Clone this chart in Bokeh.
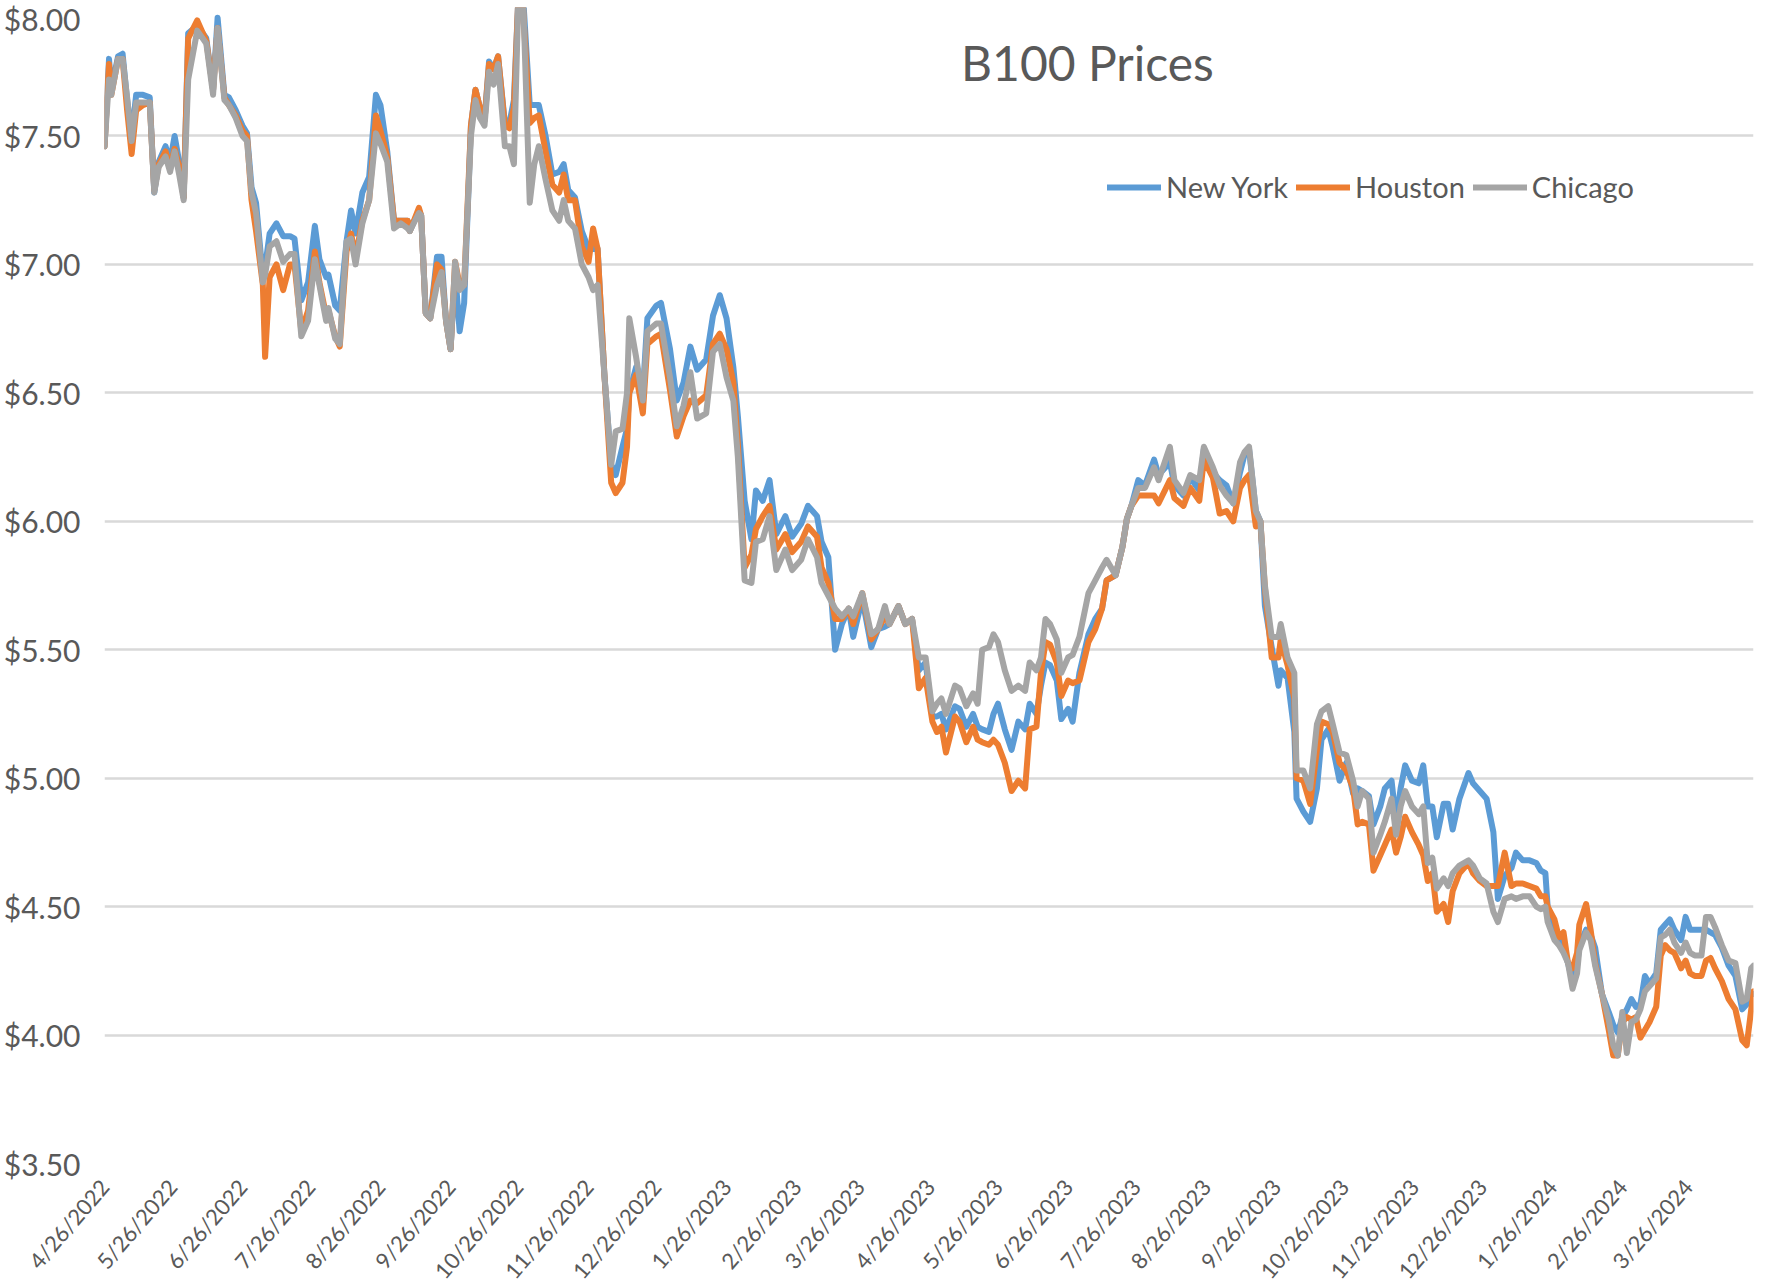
import pandas as pd
from bokeh.plotting import figure
from bokeh.models import (ColumnDataSource, Range1d, FixedTicker, NumeralTickFormatter,
                          Legend, LegendItem, Label)
from bokeh.embed import file_html
from bokeh.resources import INLINE

# ---------------- data ----------------
dates = [
    "2022-04-26", "2022-04-28", "2022-04-29", "2022-05-02", "2022-05-04", "2022-05-06", "2022-05-08",
    "2022-05-10", "2022-05-13", "2022-05-16", "2022-05-18", "2022-05-20", "2022-05-23", "2022-05-25",
    "2022-05-27", "2022-05-29", "2022-05-31", "2022-06-02", "2022-06-06", "2022-06-10", "2022-06-13",
    "2022-06-15", "2022-06-18", "2022-06-20", "2022-06-23", "2022-06-26", "2022-06-28", "2022-06-30",
    "2022-07-02", "2022-07-05", "2022-07-06", "2022-07-08", "2022-07-11", "2022-07-14", "2022-07-17",
    "2022-07-19", "2022-07-22", "2022-07-25", "2022-07-28", "2022-07-30", "2022-08-02", "2022-08-03",
    "2022-08-06", "2022-08-08", "2022-08-11", "2022-08-13", "2022-08-15", "2022-08-18", "2022-08-21",
    "2022-08-24",
    "2022-08-26", "2022-08-29", "2022-09-01", "2022-09-04", "2022-09-07", "2022-09-08", "2022-09-12",
    "2022-09-13", "2022-09-15", "2022-09-17", "2022-09-20", "2022-09-22", "2022-09-24", "2022-09-26",
    "2022-09-28", "2022-09-30", "2022-10-02", "2022-10-05", "2022-10-07", "2022-10-09", "2022-10-11",
    "2022-10-13", "2022-10-15", "2022-10-17", "2022-10-20", "2022-10-22", "2022-10-24", "2022-10-26",
    "2022-10-28", "2022-10-31", "2022-11-02", "2022-11-04", "2022-11-07", "2022-11-10", "2022-11-13",
    "2022-11-15", "2022-11-17", "2022-11-20", "2022-11-23", "2022-11-26", "2022-11-28", "2022-11-30",
    "2022-12-03", "2022-12-06", "2022-12-08", "2022-12-11", "2022-12-13", "2022-12-14", "2022-12-17",
    "2022-12-20", "2022-12-22", "2022-12-26", "2022-12-28",
    "2023-01-01", "2023-01-04", "2023-01-07", "2023-01-10", "2023-01-13", "2023-01-17", "2023-01-20",
    "2023-01-23", "2023-01-26", "2023-01-29", "2023-01-31", "2023-02-03", "2023-02-06", "2023-02-08",
    "2023-02-11", "2023-02-14", "2023-02-17", "2023-02-21", "2023-02-24", "2023-02-28", "2023-03-03",
    "2023-03-07", "2023-03-09", "2023-03-12", "2023-03-15", "2023-03-18", "2023-03-21", "2023-03-23",
    "2023-03-27", "2023-03-31", "2023-04-03", "2023-04-06", "2023-04-08", "2023-04-12", "2023-04-15",
    "2023-04-18", "2023-04-21", "2023-04-24", "2023-04-27",
    "2023-04-29", "2023-05-01", "2023-05-03", "2023-05-07", "2023-05-09", "2023-05-12", "2023-05-15",
    "2023-05-17", "2023-05-19", "2023-05-22", "2023-05-24", "2023-05-26", "2023-05-29", "2023-06-01",
    "2023-06-04", "2023-06-07", "2023-06-09", "2023-06-12", "2023-06-14", "2023-06-16", "2023-06-18",
    "2023-06-21", "2023-06-23", "2023-06-26", "2023-06-28", "2023-07-01", "2023-07-05", "2023-07-08",
    "2023-07-11", "2023-07-13", "2023-07-17", "2023-07-20", "2023-07-22", "2023-07-24", "2023-07-27",
    "2023-07-30", "2023-08-03", "2023-08-05", "2023-08-10", "2023-08-12", "2023-08-16", "2023-08-19",
    "2023-08-23", "2023-08-25", "2023-08-29", "2023-09-01",
    "2023-09-04", "2023-09-07", "2023-09-10", "2023-09-12", "2023-09-14", "2023-09-17", "2023-09-19",
    "2023-09-21", "2023-09-24", "2023-09-27", "2023-09-28", "2023-10-01", "2023-10-04", "2023-10-05",
    "2023-10-08", "2023-10-11", "2023-10-14", "2023-10-16", "2023-10-19", "2023-10-21", "2023-10-24",
    "2023-10-27", "2023-10-30", "2023-11-01", "2023-11-03", "2023-11-06", "2023-11-08", "2023-11-11",
    "2023-11-13", "2023-11-16", "2023-11-18", "2023-11-20", "2023-11-22", "2023-11-25", "2023-11-28",
    "2023-11-30", "2023-12-02", "2023-12-04", "2023-12-06", "2023-12-09", "2023-12-11", "2023-12-13",
    "2023-12-16", "2023-12-20", "2023-12-22", "2023-12-25", "2023-12-28", "2023-12-31",
    "2024-01-02", "2024-01-05", "2024-01-08", "2024-01-10", "2024-01-13", "2024-01-16", "2024-01-19",
    "2024-01-21", "2024-01-23", "2024-01-24", "2024-01-27", "2024-01-29", "2024-01-31", "2024-02-02",
    "2024-02-04", "2024-02-06", "2024-02-07", "2024-02-10", "2024-02-12", "2024-02-14", "2024-02-17",
    "2024-02-20", "2024-02-22", "2024-02-24", "2024-02-26", "2024-02-28", "2024-03-01", "2024-03-03",
    "2024-03-05", "2024-03-07", "2024-03-09", "2024-03-12", "2024-03-14", "2024-03-16", "2024-03-18",
    "2024-03-20", "2024-03-23", "2024-03-25", "2024-03-27", "2024-03-29", "2024-04-01", "2024-04-03",
    "2024-04-05", "2024-04-07", "2024-04-10", "2024-04-13", "2024-04-16", "2024-04-19", "2024-04-21",
    "2024-04-23", "2024-04-24",
]

new_york = [
    7.46, 7.80, 7.68, 7.81, 7.82, 7.64, 7.50, 7.66, 7.66, 7.65, 7.28, 7.40, 7.46, 7.40,
    7.50, 7.40, 7.26, 7.90, 7.93, 7.88, 7.68, 7.96, 7.66, 7.65, 7.60, 7.54, 7.51, 7.30,
    7.24, 6.95, 6.99, 7.12, 7.16, 7.11, 7.11, 7.10, 6.86, 6.93, 7.15, 7.02, 6.95, 6.96,
    6.84, 6.82, 7.09, 7.21, 7.12, 7.28, 7.34, 7.66,
    7.62, 7.44, 7.17, 7.17, 7.17, 7.13, 7.21, 7.19, 6.81, 6.79, 7.03, 7.03, 6.78, 6.67,
    6.97, 6.74, 6.85, 7.54, 7.68, 7.61, 7.56, 7.79, 7.76, 7.81, 7.55, 7.55, 7.64, 8.05,
    8.05, 7.62, 7.62, 7.62, 7.50, 7.35, 7.36, 7.39, 7.29, 7.26, 7.13, 7.06, 7.06, 7.06,
    6.57, 6.22, 6.18, 6.29, 6.36, 6.50, 6.60, 6.50, 6.79, 6.84, 6.85,
    6.67, 6.47, 6.54, 6.68, 6.59, 6.63, 6.80, 6.88, 6.79, 6.60, 6.41, 6.08, 5.93, 6.12,
    6.08, 6.16, 5.95, 6.02, 5.94, 5.99, 6.06, 6.02, 5.92, 5.86, 5.50, 5.60, 5.66, 5.55,
    5.70, 5.51, 5.58, 5.59, 5.60, 5.67, 5.60, 5.62, 5.42, 5.45, 5.24,
    5.24, 5.25, 5.19, 5.28, 5.27, 5.20, 5.25, 5.20, 5.19, 5.18, 5.25, 5.29, 5.19, 5.11,
    5.22, 5.19, 5.29, 5.25, 5.36, 5.45, 5.44, 5.38, 5.23, 5.27, 5.22, 5.41, 5.56, 5.62,
    5.66, 5.77, 5.79, 5.90, 6.01, 6.06, 6.16, 6.14, 6.24, 6.18, 6.23, 6.14, 6.10, 6.17,
    6.12, 6.28, 6.19, 6.16,
    6.14, 6.07, 6.19, 6.26, 6.28, 6.04, 6.00, 5.67, 5.51, 5.36, 5.42, 5.39, 5.18, 4.92,
    4.87, 4.83, 4.96, 5.15, 5.19, 5.12, 4.99, 5.06, 4.94, 4.96, 4.95, 4.93, 4.82, 4.89,
    4.96, 4.99, 4.83, 4.96, 5.05, 4.99, 4.98, 5.05, 4.89, 4.89, 4.77, 4.90, 4.90, 4.80,
    4.92, 5.02, 4.98, 4.95, 4.92, 4.79,
    4.53, 4.62, 4.65, 4.71, 4.68, 4.68, 4.67, 4.64, 4.63, 4.50, 4.42, 4.38, 4.34, 4.28,
    4.21, 4.27, 4.35, 4.41, 4.39, 4.34, 4.16, 4.09, 4.04, 4.01, 4.07, 4.10, 4.14, 4.11,
    4.12, 4.23, 4.20, 4.24, 4.41, 4.43, 4.45, 4.41, 4.37, 4.46, 4.41, 4.41, 4.41, 4.41,
    4.40, 4.39, 4.34, 4.27, 4.23, 4.10, 4.12, 4.16, 4.16,
]

houston = [
    7.46, 7.78, 7.66, 7.80, 7.80, 7.60, 7.43, 7.60, 7.62, 7.63, 7.29, 7.39, 7.44, 7.38,
    7.45, 7.38, 7.26, 7.88, 7.95, 7.87, 7.68, 7.92, 7.65, 7.62, 7.58, 7.52, 7.50, 7.25,
    7.13, 6.92, 6.64, 6.95, 7.00, 6.90, 7.00, 7.00, 6.74, 6.82, 7.05, 6.93, 6.80, 6.82,
    6.72, 6.68, 7.05, 7.12, 7.03, 7.17, 7.25, 7.58,
    7.52, 7.42, 7.17, 7.17, 7.17, 7.13, 7.22, 7.19, 6.81, 6.79, 7.00, 6.98, 6.78, 6.67,
    7.01, 6.92, 6.92, 7.54, 7.68, 7.61, 7.56, 7.78, 7.76, 7.81, 7.54, 7.53, 7.61, 8.05,
    8.00, 7.55, 7.57, 7.58, 7.44, 7.31, 7.28, 7.35, 7.25, 7.25, 7.07, 7.01, 7.14, 7.06,
    6.57, 6.15, 6.11, 6.15, 6.29, 6.50, 6.57, 6.42, 6.69, 6.72, 6.73,
    6.51, 6.33, 6.41, 6.47, 6.46, 6.49, 6.69, 6.73, 6.67, 6.54, 6.30, 5.82, 5.87, 5.97,
    6.02, 6.06, 5.89, 5.95, 5.88, 5.92, 5.98, 5.94, 5.82, 5.76, 5.62, 5.62, 5.66, 5.60,
    5.72, 5.54, 5.58, 5.63, 5.60, 5.67, 5.60, 5.62, 5.35, 5.39, 5.22,
    5.18, 5.20, 5.10, 5.24, 5.22, 5.14, 5.20, 5.15, 5.14, 5.13, 5.15, 5.13, 5.06, 4.95,
    4.99, 4.96, 5.19, 5.20, 5.41, 5.53, 5.52, 5.45, 5.32, 5.38, 5.37, 5.38, 5.53, 5.58,
    5.66, 5.77, 5.79, 5.90, 6.01, 6.06, 6.10, 6.10, 6.10, 6.07, 6.16, 6.09, 6.06, 6.13,
    6.08, 6.24, 6.17, 6.03,
    6.04, 6.00, 6.13, 6.16, 6.18, 5.98, 6.00, 5.74, 5.47, 5.47, 5.54, 5.44, 5.31, 5.00,
    4.99, 4.90, 5.11, 5.22, 5.21, 5.18, 5.06, 5.03, 4.96, 4.82, 4.83, 4.82, 4.64, 4.70,
    4.74, 4.80, 4.71, 4.77, 4.85, 4.79, 4.74, 4.70, 4.60, 4.63, 4.48, 4.51, 4.44, 4.56,
    4.63, 4.67, 4.63, 4.60, 4.58, 4.58,
    4.58, 4.71, 4.58, 4.59, 4.59, 4.58, 4.57, 4.54, 4.54, 4.50, 4.45, 4.38, 4.40, 4.28,
    4.26, 4.32, 4.43, 4.51, 4.41, 4.28, 4.16, 4.02, 3.92, 3.92, 4.05, 4.07, 4.06, 4.07,
    3.99, 4.02, 4.05, 4.11, 4.31, 4.35, 4.33, 4.32, 4.26, 4.29, 4.24, 4.23, 4.23, 4.29,
    4.30, 4.26, 4.21, 4.14, 4.10, 3.98, 3.96, 4.10, 4.17,
]

chicago = [
    7.46, 7.72, 7.66, 7.80, 7.80, 7.65, 7.48, 7.63, 7.63, 7.63, 7.28, 7.38, 7.42, 7.36,
    7.44, 7.35, 7.25, 7.72, 7.91, 7.86, 7.66, 7.92, 7.64, 7.62, 7.57, 7.50, 7.48, 7.28,
    7.20, 6.93, 6.96, 7.07, 7.09, 7.01, 7.04, 7.04, 6.72, 6.78, 7.02, 6.92, 6.78, 6.83,
    6.71, 6.69, 7.09, 7.10, 7.00, 7.16, 7.25, 7.51,
    7.47, 7.40, 7.14, 7.16, 7.14, 7.13, 7.20, 7.19, 6.81, 6.79, 6.92, 6.97, 6.78, 6.67,
    7.01, 6.90, 6.92, 7.50, 7.64, 7.57, 7.54, 7.75, 7.70, 7.78, 7.46, 7.46, 7.39, 8.05,
    8.05, 7.24, 7.39, 7.46, 7.33, 7.21, 7.17, 7.25, 7.17, 7.14, 7.00, 6.95, 6.90, 6.92,
    6.57, 6.22, 6.35, 6.36, 6.50, 6.79, 6.64, 6.47, 6.74, 6.77, 6.77,
    6.56, 6.37, 6.45, 6.58, 6.40, 6.42, 6.66, 6.69, 6.56, 6.47, 6.25, 5.77, 5.76, 5.92,
    5.93, 6.02, 5.81, 5.89, 5.81, 5.85, 5.93, 5.86, 5.76, 5.71, 5.66, 5.63, 5.66, 5.63,
    5.72, 5.56, 5.58, 5.67, 5.60, 5.67, 5.60, 5.62, 5.47, 5.47, 5.26,
    5.29, 5.31, 5.25, 5.36, 5.35, 5.28, 5.33, 5.29, 5.50, 5.51, 5.56, 5.53, 5.42, 5.34,
    5.36, 5.34, 5.45, 5.42, 5.47, 5.62, 5.60, 5.54, 5.41, 5.47, 5.48, 5.55, 5.72, 5.77,
    5.82, 5.85, 5.79, 5.90, 6.01, 6.06, 6.13, 6.13, 6.21, 6.16, 6.29, 6.16, 6.11, 6.18,
    6.16, 6.29, 6.21, 6.14,
    6.10, 6.07, 6.23, 6.27, 6.29, 6.04, 6.00, 5.75, 5.55, 5.55, 5.60, 5.47, 5.41, 5.03,
    5.03, 4.96, 5.21, 5.26, 5.28, 5.21, 5.10, 5.09, 4.99, 4.89, 4.95, 4.92, 4.71, 4.78,
    4.83, 4.92, 4.78, 4.89, 4.95, 4.89, 4.86, 4.89, 4.67, 4.69, 4.57, 4.61, 4.58, 4.63,
    4.66, 4.68, 4.66, 4.61, 4.59, 4.48,
    4.44, 4.53, 4.54, 4.53, 4.54, 4.54, 4.50, 4.49, 4.50, 4.44, 4.37, 4.35, 4.32, 4.28,
    4.18, 4.24, 4.33, 4.40, 4.37, 4.27, 4.16, 4.06, 3.96, 3.92, 4.09, 3.93, 4.05, 4.06,
    4.10, 4.17, 4.19, 4.22, 4.38, 4.39, 4.41, 4.36, 4.32, 4.36, 4.32, 4.31, 4.31, 4.46,
    4.46, 4.42, 4.35, 4.29, 4.28, 4.13, 4.14, 4.26, 4.27,
]

series_names = ["New York", "Houston", "Chicago"]
series_colors = ["#5B9BD5", "#ED7D31", "#A5A5A5"]

x_tick_labels = [
    "4/26/2022", "5/26/2022", "6/26/2022", "7/26/2022", "8/26/2022", "9/26/2022",
    "10/26/2022", "11/26/2022", "12/26/2022", "1/26/2023", "2/26/2023", "3/26/2023",
    "4/26/2023", "5/26/2023", "6/26/2023", "7/26/2023", "8/26/2023", "9/26/2023",
    "10/26/2023", "11/26/2023", "12/26/2023", "1/26/2024", "2/26/2024", "3/26/2024",
]
y_ticks = [3.5, 4.0, 4.5, 5.0, 5.5, 6.0, 6.5, 7.0, 7.5, 8.0]
title_text = "B100 Prices"

# ---------------- figure ----------------
FONT = "Lato"
TEXT_COLOR = "#595959"
FRAME_W = 1649
FRAME_H = 1156

dt = pd.to_datetime(dates)
src = ColumnDataSource(dict(date=dt, ny=new_york, hou=houston, chi=chicago))

epoch = pd.Timestamp("1970-01-01")
tick_dt = pd.to_datetime(x_tick_labels, format="%m/%d/%Y")
tick_ms = [float((t - epoch) / pd.Timedelta(milliseconds=1)) for t in tick_dt]
x_start = float((dt[0] - epoch) / pd.Timedelta(milliseconds=1))
x_end = float((dt[-1] - epoch) / pd.Timedelta(milliseconds=1))

p = figure(
    frame_width=FRAME_W, frame_height=FRAME_H,
    x_axis_type="datetime",
    x_range=Range1d(x_start, x_end),
    y_range=Range1d(y_ticks[0], y_ticks[-1]),
    output_backend="svg", toolbar_location=None,
    min_border_left=96, min_border_right=20, min_border_top=7, min_border_bottom=0,
    background_fill_color="white", border_fill_color="white",
)
p.outline_line_color = None

# grid
p.xgrid.visible = False
p.ygrid.ticker = FixedTicker(ticks=y_ticks)
p.ygrid.grid_line_color = "#D9D9D9"
p.ygrid.grid_line_width = 2.5

# y axis
p.yaxis.ticker = FixedTicker(ticks=y_ticks)
p.yaxis.formatter = NumeralTickFormatter(format="$0.00")
p.yaxis.axis_line_color = None
p.yaxis.major_tick_line_color = None
p.yaxis.minor_tick_line_color = None
p.yaxis.major_label_text_font = FONT
p.yaxis.major_label_text_font_size = "30px"
p.yaxis.major_label_text_color = TEXT_COLOR
p.yaxis.major_label_standoff = 18

# x axis
p.xaxis.ticker = FixedTicker(ticks=tick_ms)
p.xaxis.major_label_overrides = {ms: lab for ms, lab in zip(tick_ms, x_tick_labels)}
p.xaxis.axis_line_color = None
p.xaxis.major_tick_line_color = None
p.xaxis.minor_tick_line_color = None
p.xaxis.major_label_orientation = 0.86
p.xaxis.major_label_text_font = FONT
p.xaxis.major_label_text_font_size = "22px"
p.xaxis.major_label_text_color = TEXT_COLOR
p.xaxis.major_label_standoff = 13

# lines
renderers = []
for col, color in zip(["ny", "hou", "chi"], series_colors):
    r = p.line("date", col, source=src, line_color=color, line_width=6,
               line_join="round", line_cap="round")
    renderers.append(r)

legend = Legend(
    items=[LegendItem(label=n, renderers=[r]) for n, r in zip(series_names, renderers)],
    orientation="horizontal",
    location=(1003, FRAME_H - 197),
    glyph_width=54, glyph_height=20,
    label_standoff=5, spacing=8, padding=0, margin=0,
    border_line_color=None, background_fill_alpha=0,
    label_text_font=FONT, label_text_font_size="29px", label_text_color=TEXT_COLOR,
)
p.add_layout(legend)

p.add_layout(Label(
    x=983, y=FRAME_H - 55, x_units="screen", y_units="screen",
    text=title_text, text_align="center", text_baseline="middle",
    text_font=FONT, text_font_size="48px", text_color=TEXT_COLOR,
))

with open("out.html", "w") as f:
    f.write(file_html(p, INLINE))
